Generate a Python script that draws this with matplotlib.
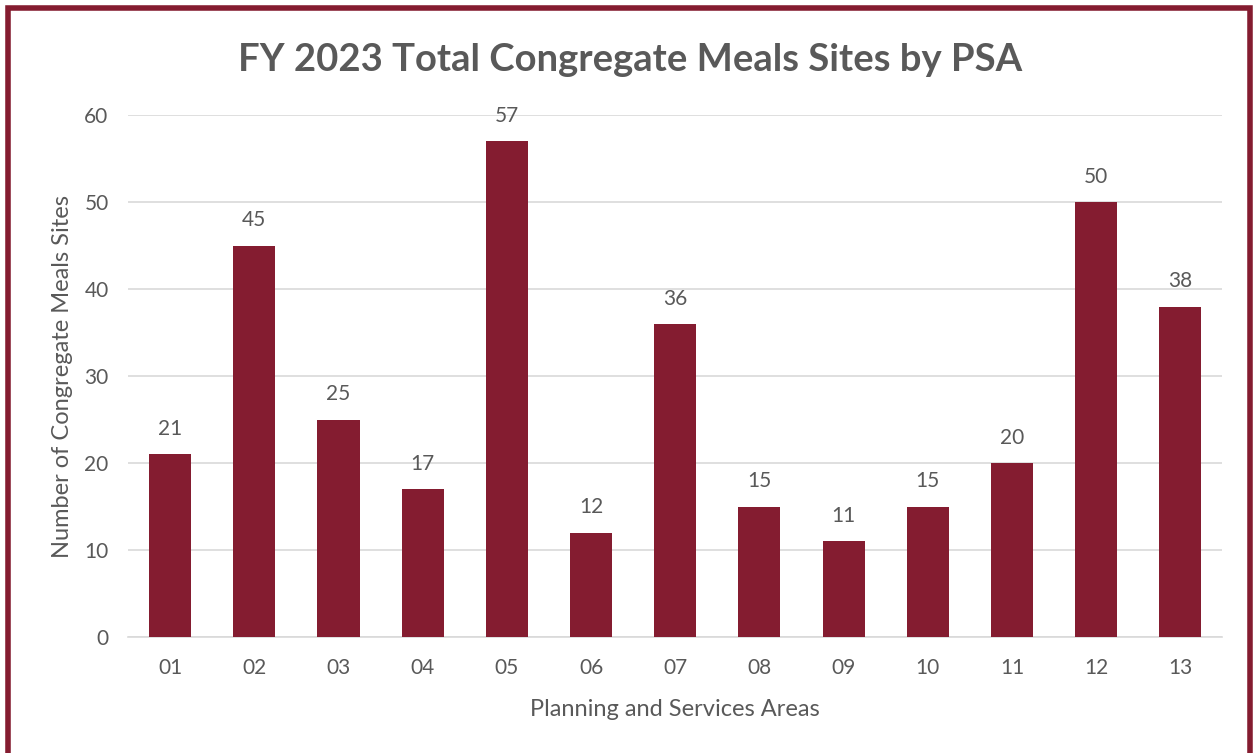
import matplotlib.pyplot as plt
from matplotlib.patches import Rectangle

psa = ["01", "02", "03", "04", "05", "06", "07", "08", "09", "10", "11", "12", "13"]
sites = [21, 45, 25, 17, 57, 12, 36, 15, 11, 15, 20, 50, 38]

bar_color = "#841C30"
text_color = "#595959"
plt.rcParams['font.family'] = ['Lato', 'DejaVu Sans']

fig = plt.figure(figsize=(12.55, 7.53), dpi=100)
ax = fig.add_axes([0.102, 0.154, 0.872, 0.693])

x = range(len(psa))
ax.bar(x, sites, width=0.5, color=bar_color, zorder=3)
for i, v in zip(x, sites):
    ax.annotate(str(v), (i, v), xytext=(0, 11), textcoords="offset points",
                ha="center", va="bottom", fontsize=15, color=text_color)

ax.set_xlim(-0.5, len(psa) - 0.5)
ax.set_ylim(0, 60)
ax.set_yticks(range(0, 61, 10))
ax.set_xticks(list(x))
ax.set_xticklabels(psa)
ax.yaxis.grid(True, color="#D9D9D9", linewidth=1.2, zorder=0)
ax.tick_params(axis="both", length=0, labelsize=15, labelcolor=text_color)
ax.tick_params(axis="y", pad=14)
ax.tick_params(axis="x", pad=15)
for s in ["top", "right", "left"]:
    ax.spines[s].set_visible(False)
ax.spines["bottom"].set_color("#D9D9D9")
ax.spines["bottom"].set_linewidth(1.2)

ax.set_xlabel("Planning and Services Areas", fontsize=17, color=text_color, labelpad=15)
ax.set_ylabel("Number of Congregate Meals Sites", fontsize=17, color=text_color, labelpad=8)
fig.text(0.502, 0.92, "FY 2023 Total Congregate Meals Sites by PSA", ha="center", va="center",
         fontsize=27.5, fontweight="bold", color=text_color)

fig.patches.append(Rectangle((0.0065, -0.05), 0.9895, 1.04, transform=fig.transFigure,
                             fill=False, edgecolor=bar_color, linewidth=4, clip_on=False))

fig.savefig("out.png", dpi=100)
